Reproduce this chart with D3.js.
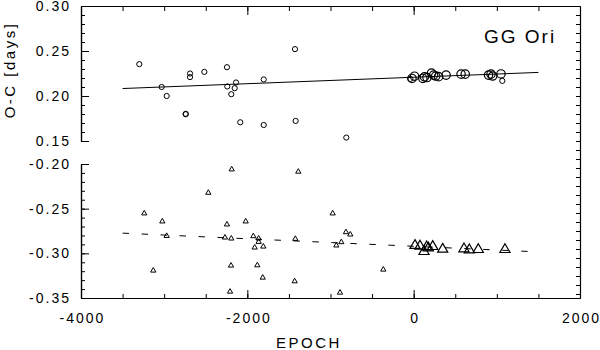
<!DOCTYPE html>
<html>
<head>
<meta charset="utf-8">
<script src="https://cdn.jsdelivr.net/npm/d3@7"></script>
<style>
  html, body { margin: 0; padding: 0; background: #fff; }
  svg { display: block; }
  text { font-family: "Liberation Sans", Arial, Helvetica, sans-serif; fill: #000; }
</style>
</head>
<body>
<svg id="chart" width="600" height="350"></svg>
<script>
// ---- data ----
const title = "GG Ori";
const xTitle = "EPOCH";
const yTitle = "O-C [days]";

const xTickLabels = [-4000, -2000, 0, 2000];
const yTopTickLabels = [0.15, 0.20, 0.25, 0.30];
const yBotTickLabels = [-0.35, -0.30, -0.25, -0.20];

// upper panel: small circles (older timings)
const topEpoch = [-3299, -3030, -2970, -2689, -2689, -2517, -2741, -2741, -2245, -2241, -2136, -2152, -2193, -2085, -1803, -1803, -1427, -1419, -810, -40, 1066];
const topOC    = [0.2354, 0.2100, 0.2000, 0.2250, 0.2210, 0.2268, 0.1797, 0.1802, 0.2320, 0.2106, 0.2150, 0.2087, 0.2020, 0.1708, 0.2184, 0.1678, 0.2521, 0.1723, 0.1538, 0.2190, 0.2168];
// upper panel: large circles (recent timings)
const topEpochBig = [-20, 10, 110, 130, 160, 215, 240, 265, 300, 390, 570, 620, 900, 930, 950, 1050];
const topOCBig    = [0.2195, 0.2220, 0.2195, 0.2213, 0.2205, 0.2255, 0.2232, 0.2222, 0.2215, 0.2232, 0.2243, 0.2243, 0.2232, 0.2243, 0.2222, 0.2245];
// upper panel linear fit
const topFitEpoch = [-3500, 1500];
const topFitOC    = [0.2083, 0.2262];

// lower panel: small triangles
const botEpoch = [-2188, -1387, -2469, -3239, -3022, -2245, -2020, -2970, -2269, -2193, -1928, -1864, -1864, -1912, -1808, -1423, -2196, -1880, -3131, -1815, -1431, -2208, -974, -814, -762, -870, -930, -365, -886];
const botOC    = [-0.2060, -0.2086, -0.2322, -0.2553, -0.2643, -0.2677, -0.2643, -0.2805, -0.2823, -0.2834, -0.2808, -0.2834, -0.2872, -0.2935, -0.2924, -0.2838, -0.3137, -0.3134, -0.3193, -0.3272, -0.3313, -0.3429, -0.2553, -0.2763, -0.2789, -0.2875, -0.2912, -0.3182, -0.3440];
// lower panel: large triangles
const botEpochBig = [16, 76, 124, 156, 176, 229, 349, 605, 669, 777, 1098];
const botOCBig    = [-0.2912, -0.2920, -0.2980, -0.2928, -0.2940, -0.2924, -0.2954, -0.2950, -0.2962, -0.2958, -0.2958];
// lower panel linear fit
const botFitEpoch = [-3500, 1500];
const botFitOC    = [-0.2774, -0.2984];

// ---- layout ----
const svg = d3.select("#chart");
const L = 81, R = 580, topT = 6, topB = 141, botT = 164, botB = 298;

const x = d3.scaleLinear().domain([-4000, 2000]).range([L, R]);
const yTop = d3.scaleLinear().domain([0.15, 0.30]).range([topB, topT]);
const yBot = d3.scaleLinear().domain([-0.35, -0.20]).range([botB, botT]);
// right frame axis spans both panels with the upper panel's step
const yRight = d3.scaleLinear().domain([yTop.invert(botB), 0.30]).range([botB, topT]);

const fontTick = "14px";
const tickLS = "2px";

function styleAxis(g) {
  g.selectAll("path.domain").attr("stroke", "#000").attr("stroke-width", 1.2);
  g.selectAll(".tick line").attr("stroke", "#000").attr("stroke-width", 1);
  g.selectAll("text").attr("font-size", fontTick).style("letter-spacing", tickLS)
    .attr("font-family", '"Liberation Sans", Arial, sans-serif').attr("fill", "#000");
}

function range(a, b, step) {
  const out = [];
  for (let v = a; v <= b + step / 2; v += step) out.push(+v.toFixed(4));
  return out;
}

// --- top panel left axis ---
svg.append("g").attr("transform", `translate(${L},0)`)
  .call(d3.axisLeft(yTop).tickValues(range(0.15, 0.30, 0.01)).tickSize(-4).tickSizeOuter(0).tickFormat(""))
  .call(styleAxis);
svg.append("g").attr("transform", `translate(${L},0)`)
  .call(d3.axisLeft(yTop).tickValues(yTopTickLabels).tickSize(-8).tickSizeOuter(0).tickPadding(10).tickFormat(d => d.toFixed(2)))
  .call(styleAxis);

// --- bottom panel left axis ---
svg.append("g").attr("transform", `translate(${L},0)`)
  .call(d3.axisLeft(yBot).tickValues(range(-0.35, -0.20, 0.01)).tickSize(-4).tickSizeOuter(0).tickFormat(""))
  .call(styleAxis);
svg.append("g").attr("transform", `translate(${L},0)`)
  .call(d3.axisLeft(yBot).tickValues(yBotTickLabels).tickSize(-8).tickSizeOuter(0).tickPadding(10).tickFormat(d => d.toFixed(2)))
  .call(styleAxis);

// --- right frame axis ---
svg.append("g").attr("transform", `translate(${R},0)`)
  .call(d3.axisRight(yRight).tickValues(range(Math.ceil(yTop.invert(botB) * 100) / 100, 0.29, 0.01)).tickSize(-4).tickSizeOuter(0).tickFormat(""))
  .call(styleAxis);

// --- top frame axis ---
svg.append("g").attr("transform", `translate(0,${topT})`)
  .call(d3.axisTop(x).tickValues(range(-3500, 1500, 500)).tickSize(-5).tickSizeOuter(0).tickFormat(""))
  .call(styleAxis);
svg.append("g").attr("transform", `translate(0,${topT})`)
  .call(d3.axisTop(x).tickValues([-2000, 0]).tickSize(-9).tickSizeOuter(0).tickFormat(""))
  .call(styleAxis);

// --- bottom x axis ---
svg.append("g").attr("transform", `translate(0,${botB})`)
  .call(d3.axisBottom(x).tickValues(range(-3500, 1500, 500)).tickSize(-4).tickSizeOuter(0).tickFormat(""))
  .call(styleAxis);
const xb = svg.append("g").attr("transform", `translate(0,${botB})`)
  .call(d3.axisBottom(x).tickValues(xTickLabels).tickSize(-8).tickSizeOuter(0).tickPadding(15).tickFormat(d => String(d)))
  .call(styleAxis);
xb.selectAll("text").attr("dx", "1px");

// --- titles ---
svg.append("text").attr("x", 309).attr("y", 348).attr("text-anchor", "middle")
  .attr("font-size", "15px").style("letter-spacing", "2.5px").text(xTitle);
svg.append("text").attr("transform", "translate(15,70) rotate(-90)").attr("text-anchor", "middle")
  .attr("font-size", "15px").style("letter-spacing", "2.5px").text(yTitle);
svg.append("text").attr("x", 484).attr("y", 43)
  .attr("font-size", "19px").style("letter-spacing", "2px").text(title);

// --- fit lines ---
const topLine = d3.line().x(d => x(d[0])).y(d => yTop(d[1]));
const botLine = d3.line().x(d => x(d[0])).y(d => yBot(d[1]));
svg.append("path").datum(d3.zip(topFitEpoch, topFitOC)).attr("d", topLine)
  .attr("fill", "none").attr("stroke", "#000").attr("stroke-width", 1);
svg.append("path").datum(d3.zip(botFitEpoch, botFitOC)).attr("d", botLine)
  .attr("fill", "none").attr("stroke", "#000").attr("stroke-width", 1).attr("stroke-dasharray", "6.5,12.5");

// --- markers ---
svg.append("g").selectAll("circle").data(d3.zip(topEpoch, topOC)).join("circle")
  .attr("cx", d => x(d[0])).attr("cy", d => yTop(d[1])).attr("r", 2.6)
  .attr("fill", "none").attr("stroke", "#000").attr("stroke-width", 1);
svg.append("g").selectAll("circle").data(d3.zip(topEpochBig, topOCBig)).join("circle")
  .attr("cx", d => x(d[0])).attr("cy", d => yTop(d[1])).attr("r", 4.2)
  .attr("fill", "none").attr("stroke", "#000").attr("stroke-width", 1.2);

const triSmall = d3.symbol().type(d3.symbolTriangle).size(12);
const triBig = d3.symbol().type(d3.symbolTriangle).size(45);
svg.append("g").selectAll("path").data(d3.zip(botEpoch, botOC)).join("path")
  .attr("d", triSmall).attr("transform", d => `translate(${x(d[0])},${yBot(d[1])})`)
  .attr("fill", "none").attr("stroke", "#000").attr("stroke-width", 1);
svg.append("g").selectAll("path").data(d3.zip(botEpochBig, botOCBig)).join("path")
  .attr("d", triBig).attr("transform", d => `translate(${x(d[0])},${yBot(d[1])})`)
  .attr("fill", "none").attr("stroke", "#000").attr("stroke-width", 1.2);
</script>
</body>
</html>
